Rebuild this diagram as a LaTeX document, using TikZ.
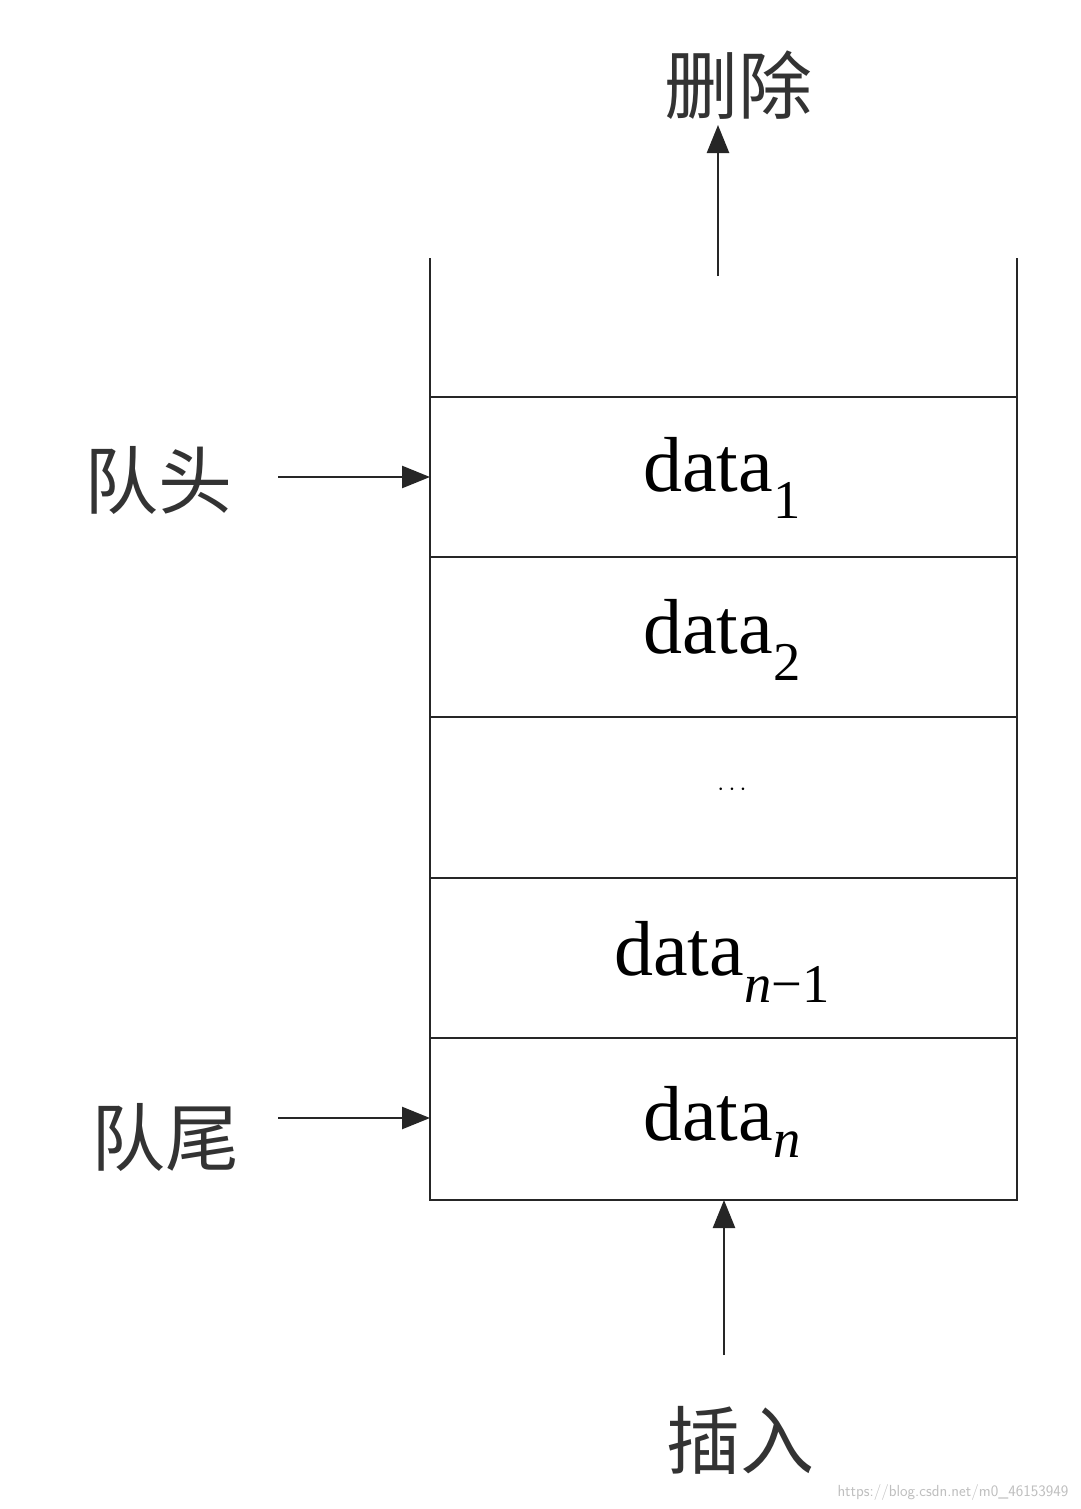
\documentclass[tikz,border=0pt]{standalone}
\usepackage{fontspec}
\setmainfont{Liberation Serif}
\newfontfamily\cjk{Noto Sans CJK SC}
\usetikzlibrary{arrows.meta}
\begin{document}
\begin{tikzpicture}[x=1pt,y=-1pt,
  ln/.style={line width=2.5pt,black!85},
  arr/.style={ln,-{Triangle[length=28pt,width=22pt]}},
  dat/.style={font=\fontsize{78}{80}\selectfont,inner sep=0pt},
  cj/.style={font=\cjk\fontsize{74}{76}\selectfont,inner sep=0pt,text=black!80}]
\useasboundingbox (0,0) rectangle (1080,1509);
\fill[white] (0,0) rectangle (1080,1509);
\draw[ln] (430,258) -- (430,1200) -- (1017,1200) -- (1017,258);
\foreach \y in {397,557,717,878,1038} \draw[ln] (430,\y) -- (1017,\y);
\node[dat] (d1) at (722,478) {data\textsubscript{1}};
\node[dat] (d2) at (722,640) {data\textsubscript{2}};
\node[dat] (dd) at (732,790) {$\cdots$};
\node[dat] (dn1) at (722,962) {data\textsubscript{\textit{n}−1}};
\node[dat] (dn) at (722,1122) {data\textsubscript{\textit{n}}};
\node[cj] (del) at (738,85) {删除};
\node[cj] (ins) at (740,1440) {插入};
\node[cj] (head) at (158,480) {队头};
\node[cj] (tail) at (165,1137) {队尾};
\coordinate (t0) at (718,276);
\coordinate (b0) at (724,1355);
\coordinate (bt) at (724,1200);
\coordinate (hl) at (430,477);
\coordinate (tl) at (430,1118);
\draw[arr] (t0) -- (718,125);
\draw[arr] (b0) -- (bt);
\draw[arr] (278,477) -- (hl);
\draw[arr] (278,1118) -- (tl);
\node[font=\fontfamily{}\selectfont\sffamily\fontsize{16}{18}\selectfont,text=black!25,anchor=east] (wm) at (1072,1492) {https://blog.csdn.net/m0\_46153949};
\end{tikzpicture}
\end{document}
